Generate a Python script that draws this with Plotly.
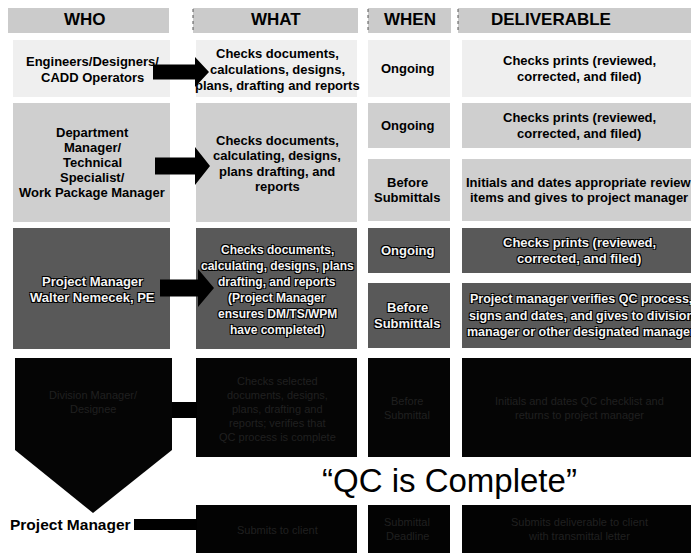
import plotly.graph_objects as go

# ---------------- content ----------------
columns = ["WHO", "WHAT", "WHEN", "DELIVERABLE"]

who_roles = [
    "Engineers/Designers/\nCADD Operators",
    "Department\nManager/\nTechnical\nSpecialist/\nWork Package Manager",
    "Project Manager\nWalter Nemecek, PE",
    "Division Manager/\nDesignee",
    "Project Manager",
]
what_tasks = [
    "Checks documents,\ncalculations, designs,\nplans, drafting and reports",
    "Checks documents,\ncalculating, designs,\nplans drafting, and\nreports",
    "Checks documents,\ncalculating, designs, plans\ndrafting, and reports\n(Project Manager\nensures DM/TS/WPM\nhave completed)",
    "Checks selected\ndocuments, designs,\nplans, drafting and\nreports; verifies that\nQC process is complete",
    "Submits to client",
]
when_timing = [
    ["Ongoing"],
    ["Ongoing", "Before\nSubmittals"],
    ["Ongoing", "Before\nSubmittals"],
    ["Before\nSubmittal"],
    ["Submittal\nDeadline"],
]
deliverables = [
    ["Checks prints (reviewed,\ncorrected, and filed)"],
    ["Checks prints (reviewed,\ncorrected, and filed)",
     "Initials and dates appropriate review\nitems and gives to project manager"],
    ["Checks prints (reviewed,\ncorrected, and filed)",
     "Project manager verifies QC process,\nsigns and dates, and gives to division\nmanager or other designated manager"],
    ["Initials and dates QC checklist and\nreturns to project manager"],
    ["Submits deliverable to client\nwith transmittal letter"],
]
banner = "\u201cQC is Complete\u201d"

# ---------------- layout (page pixels) ----------------
W, H = 699, 556
OFF = 8  # default page margin of the html body
FONT = "Liberation Sans, Arial, sans-serif"

header_x = [(5, 169), (193, 358), (368, 451), (458, 699)]
header_text_x = [85, 276, 410, 551]
header_y = (3, 33)

col_x = [(13, 170), (196, 357), (368, 450), (462, 699)]
col_cx = [92, 277, 407, 579]
row_y = [(40, 97), (103, 222), (228, 349), (358, 457), (505, 553)]
split_y = {1: [(103, 148), (159, 221)], 2: [(228, 273), (283, 348)]}

row_style = [
    dict(fill="#efefef", color="#000000", size=13, lh=16, shadow=None, w=700),
    dict(fill="#cfcfcf", color="#000000", size=13, lh=15.5, shadow=None, w=700),
    dict(fill="#595959", color="#f4f4f4", size=13, lh=16.3,
         shadow="-1px -1px 0 #000, 1px -1px 0 #000, -1px 1px 0 #000, 1px 1px 0 #000", w=700),
    dict(fill="#050505", color="#202020", size=11, lh=14, shadow=None, w=400),
    dict(fill="#030303", color="#202020", size=11, lh=14, shadow=None, w=400),
]

shapes = []
annotations = []


def rect(x0, x1, y0, y1, fill, line=None):
    shapes.append(dict(type="rect", xref="x", yref="y", x0=x0, x1=x1, y0=y0, y1=y1,
                       fillcolor=fill, line=dict(width=0) if line is None else line,
                       layer="below"))


def path(d, fill):
    shapes.append(dict(type="path", xref="x", yref="y", path=d, fillcolor=fill,
                       line=dict(width=0), layer="below"))


def text_block(txt, cx, cy, size, color, lh, weight=700, shadow=None):
    lines = txt.split("\n")
    n = len(lines)
    for i, ln in enumerate(lines):
        f = dict(family=FONT, size=size, color=color, weight=weight)
        if shadow:
            f["shadow"] = shadow
        annotations.append(dict(x=cx, y=cy + (i - (n - 1) / 2) * lh, xref="x", yref="y",
                                text=ln, showarrow=False, xanchor="center", yanchor="middle",
                                font=f))


def arrow(x0, x1, x2, c, t, h, fill="#000000"):
    d = (f"M {x0},{c-t} L {x1},{c-t} L {x1},{c-h} L {x2},{c} "
         f"L {x1},{c+h} L {x1},{c+t} L {x0},{c+t} Z")
    path(d, fill)


# header
for (x0, x1), tx, name in zip(header_x, header_text_x, columns):
    rect(x0, x1, header_y[0], header_y[1], "#cbcbcb")
    shapes.append(dict(type="line", xref="x", yref="y", x0=x0, x1=x0, y0=header_y[0],
                       y1=header_y[1], line=dict(color="#555555", width=1, dash="dot")))
    text_block(name, tx, (header_y[0] + header_y[1]) / 2 + 1, 17, "#000000", 18)

# body rows
for r in range(5):
    st = row_style[r]
    y0, y1 = row_y[r]
    cy = (y0 + y1) / 2
    kw = dict(shadow=st["shadow"], weight=st["w"])
    # WHO
    if r == 3:
        path(f"M {col_x[0][0]+2},{y0} L {col_x[0][1]+2},{y0} L {col_x[0][1]+2},450 "
             f"L 93,513 L {col_x[0][0]+2},450 Z", st["fill"])
        text_block(who_roles[r], 93, 402, st["size"], st["color"], st["lh"], **kw)
    elif r == 4:
        text_block(who_roles[r], 70, 524, 15.5, "#000000", 18)
    else:
        rect(col_x[0][0], col_x[0][1], y0, y1, st["fill"])
        text_block(who_roles[r], col_cx[0], cy + (1 if r != 1 else 0), st["size"],
                   st["color"], st["lh"] if r != 1 else 15, **kw)
    # WHAT
    rect(col_x[1][0], col_x[1][1], y0, y1, st["fill"])
    text_block(what_tasks[r], col_cx[1], cy + 1, st["size"] if r != 2 else 12,
               st["color"], st["lh"] if r != 2 else 16, **kw)
    # WHEN / DELIVERABLE
    spans = split_y.get(r, [(y0, y1)])
    for k, (s0, s1) in enumerate(spans):
        scy = (s0 + s1) / 2
        rect(col_x[2][0], col_x[2][1], s0, s1, st["fill"])
        rect(col_x[3][0], col_x[3][1], s0, s1, st["fill"])
        dsize = st["size"] if not (r == 2 and k == 1) else 12.5
        text_block(when_timing[r][k], col_cx[2], scy, st["size"], st["color"], st["lh"], **kw)
        text_block(deliverables[r][k], col_cx[3] + (2 if r == 2 and k == 1 else 0), scy,
                   dsize, st["color"], st["lh"], **kw)

# arrows & connectors
arrow(153, 195, 209, 72, 7.5, 15)
arrow(155, 195, 210, 166, 8.5, 19)
arrow(160, 198, 214, 288, 8.5, 19)
rect(172, 197, 402, 418, "#000000")
rect(134, 197, 519, 530, "#000000")

# banner
annotations.append(dict(x=449, y=480, xref="x", yref="y", text=banner, showarrow=False,
                        xanchor="center", yanchor="middle",
                        font=dict(family=FONT, size=33, color="#000000")))

fig = go.Figure()
fig.add_trace(go.Scatter(x=[OFF, W], y=[OFF, H], mode="markers",
                         marker=dict(opacity=0), hoverinfo="skip", showlegend=False))
fig.update_layout(
    width=W - OFF, height=H - OFF, margin=dict(l=0, r=0, t=0, b=0),
    paper_bgcolor="white", plot_bgcolor="white",
    xaxis=dict(range=[OFF, W], visible=False, fixedrange=True),
    yaxis=dict(range=[H, OFF], visible=False, fixedrange=True),
    shapes=shapes, annotations=annotations, showlegend=False,
)
fig.write_html("out.html")
